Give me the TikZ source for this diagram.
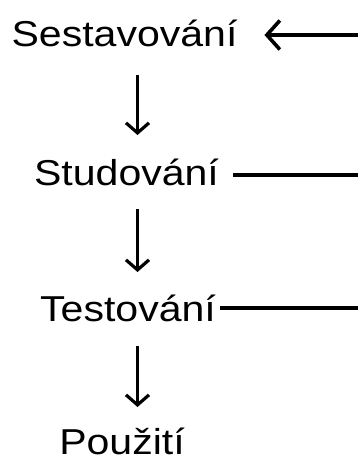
\documentclass[tikz,border=0pt]{standalone}
\usepackage{fontspec}
\setmainfont{Liberation Sans}[FakeStretch=1.14]
\usetikzlibrary{arrows.meta}
\begin{document}
\begin{tikzpicture}[x=1pt,y=-1pt,
  lbl/.style={inner sep=0pt,outer sep=0pt,anchor=base,font=\fontsize{36}{40}\selectfont},
  downarr/.style={line width=3.2pt,-{Straight Barb[length=10pt,width=23pt]}},
  leftarr/.style={line width=3.6pt,-{Straight Barb[length=13pt,width=29pt]}},
  hline/.style={line width=3.6pt}]
\useasboundingbox (0,0) rectangle (358,459);
\node[lbl] (s)  at (124.5,46)  {Sestavování};
\node[lbl] (st) at (126.5,185) {Studování};
\node[lbl] (t)  at (128,321.5) {Testování};
\node[lbl] (p)  at (122,454)   {Použití};
\coordinate (ax) at (137.5,0);
\coordinate (r1) at (358,35);
\coordinate (r2) at (358,175);
\coordinate (r3) at (358,308);
% down arrows
\draw[downarr] ([yshift=-29pt]s.base -| ax) -- ([yshift=50pt]st.base -| ax);
\draw[downarr] ([yshift=-24pt]st.base -| ax) -- ([yshift=49.5pt]t.base -| ax);
\draw[downarr] ([yshift=-24.5pt]t.base -| ax) -- ([yshift=47pt]p.base -| ax);
% horizontal connectors
\draw[leftarr] (r1) -- ([xshift=27pt]s.east |- r1);
\draw[hline] ([xshift=14pt]st.east |- r2) -- (r2);
\draw[hline] ([xshift=4pt]t.east |- r3) -- (r3);
\end{tikzpicture}
\end{document}
